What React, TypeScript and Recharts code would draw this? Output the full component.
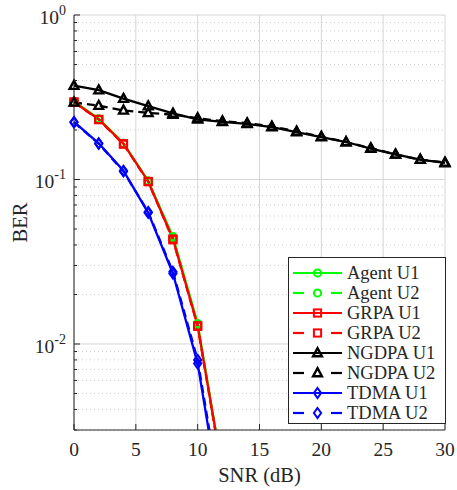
import { LineChart, Line, XAxis, YAxis, CartesianGrid, ReferenceLine, Label } from 'recharts'

const snr = [0, 2, 4, 6, 8, 10, 12, 14, 16, 18, 20, 22, 24, 26, 28, 30]

const agentU1 = [0.298, 0.234, 0.166, 0.098, 0.045, 0.0133, 0.0017]
const agentU2 = [0.296, 0.232, 0.165, 0.097, 0.044, 0.0131, 0.0017]
const grpaU1 = [0.296, 0.232, 0.165, 0.0973, 0.0435, 0.0129, 0.00168]
const grpaU2 = [0.295, 0.231, 0.164, 0.097, 0.043, 0.0128, 0.00165]
const ngdpaU1 = [0.372, 0.349, 0.31, 0.279, 0.252, 0.232, 0.224, 0.218, 0.208, 0.194, 0.181, 0.169, 0.154, 0.142, 0.132, 0.126]
const ngdpaU2 = [0.294, 0.281, 0.263, 0.254, 0.248, 0.236, 0.226, 0.22, 0.21, 0.196, 0.182, 0.169, 0.155, 0.142, 0.132, 0.127]
const tdmaU1 = [0.224, 0.166, 0.113, 0.0627, 0.0268, 0.0076, 0.00093]
const tdmaU2 = [0.222, 0.165, 0.112, 0.0635, 0.0275, 0.008, 0.001]

const xTicks = [0, 5, 10, 15, 20, 25, 30]
const yMajor = [0.01, 0.1, 1]
const yMinor = [0.003, 0.004, 0.005, 0.006, 0.007, 0.008, 0.009, 0.02, 0.03, 0.04, 0.05, 0.06, 0.07, 0.08, 0.09, 0.2, 0.3, 0.4, 0.5, 0.6, 0.7, 0.8, 0.9]
const yExp: Record<number, string> = { 0.01: '-2', 0.1: '-1', 1: '0' }

const data = snr.map((s, i) => ({
  snr: s,
  agentU1: agentU1[i],
  agentU2: agentU2[i],
  grpaU1: grpaU1[i],
  grpaU2: grpaU2[i],
  ngdpaU1: ngdpaU1[i],
  ngdpaU2: ngdpaU2[i],
  tdmaU1: tdmaU1[i],
  tdmaU2: tdmaU2[i],
}))

type MarkerKind = 'circle' | 'square' | 'triangle' | 'diamond'

const series: { key: string; name: string; color: string; dashed: boolean; marker: MarkerKind }[] = [
  { key: 'agentU1', name: 'Agent U1', color: '#00ff00', dashed: false, marker: 'circle' },
  { key: 'agentU2', name: 'Agent U2', color: '#00ff00', dashed: true, marker: 'circle' },
  { key: 'grpaU1', name: 'GRPA U1', color: '#ff0000', dashed: false, marker: 'square' },
  { key: 'grpaU2', name: 'GRPA U2', color: '#ff0000', dashed: true, marker: 'square' },
  { key: 'ngdpaU1', name: 'NGDPA U1', color: '#000000', dashed: false, marker: 'triangle' },
  { key: 'ngdpaU2', name: 'NGDPA U2', color: '#000000', dashed: true, marker: 'triangle' },
  { key: 'tdmaU1', name: 'TDMA U1', color: '#0000ff', dashed: false, marker: 'diamond' },
  { key: 'tdmaU2', name: 'TDMA U2', color: '#0000ff', dashed: true, marker: 'diamond' },
]

const FONT = '"Liberation Serif", "Times New Roman", serif'
const AXIS = '#262626'

function Marker({ kind, cx, cy, color }: { kind: MarkerKind; cx: number; cy: number; color: string }) {
  const common = { fill: 'none', stroke: color, strokeWidth: 2 }
  if (kind === 'circle') return <circle cx={cx} cy={cy} r={3.6} {...common} />
  if (kind === 'square') return <rect x={cx - 3.6} y={cy - 3.6} width={7.2} height={7.2} {...common} />
  if (kind === 'triangle')
    return <path d={`M${cx},${cy - 4.8} L${cx + 4.4},${cy + 3.2} L${cx - 4.4},${cy + 3.2} Z`} {...common} strokeWidth={2.4} />
  return <path d={`M${cx},${cy - 5} L${cx + 3.6},${cy} L${cx},${cy + 5} L${cx - 3.6},${cy} Z`} {...common} />
}

function YTick(props: any) {
  const { x, y, payload } = props
  const v = payload.value
  const major = yExp[v] !== undefined
  return (
    <g>
      <line x1={x} x2={x + (major ? 6 : 3)} y1={y} y2={y} stroke={AXIS} strokeWidth={1} />
      {major && (
        <text x={x - 8} y={y + 9} textAnchor="end" fontFamily={FONT} fontSize={19.5} fill={AXIS}>
          10
          <tspan dy={-9} fontSize={14}>
            {yExp[v]}
          </tspan>
        </text>
      )}
    </g>
  )
}

function XTick(props: any) {
  const { x, y, payload } = props
  return (
    <g>
      <line x1={x} x2={x} y1={y} y2={y - 6} stroke={AXIS} strokeWidth={1} />
      <text x={x} y={y + 26} textAnchor="middle" fontFamily={FONT} fontSize={19.5} fill={AXIS}>
        {payload.value}
      </text>
    </g>
  )
}

function LegendBox() {
  return (
    <div
      style={{
        position: 'absolute',
        left: 288,
        top: 257,
        width: 158,
        height: 167,
        border: '1px solid #262626',
        background: '#fff',
        boxSizing: 'border-box',
        paddingTop: 5,
      }}
    >
      {series.map((s) => (
        <div key={s.key} style={{ display: 'flex', alignItems: 'center', height: 20 }}>
          <svg width={54} height={20} style={{ display: 'block', flex: 'none' }}>
            {s.dashed ? (
              <>
                <line x1={4} x2={15} y1={10} y2={10} stroke={s.color} strokeWidth={2.2} />
                <line x1={42} x2={53} y1={10} y2={10} stroke={s.color} strokeWidth={2.2} />
              </>
            ) : (
              <line x1={4} x2={53} y1={10} y2={10} stroke={s.color} strokeWidth={2.2} />
            )}
            <Marker kind={s.marker} cx={28.5} cy={10} color={s.color} />
          </svg>
          <span style={{ fontFamily: FONT, fontSize: 18.5, color: AXIS, marginLeft: 4, lineHeight: '20px' }}>
            {s.name}
          </span>
        </div>
      ))}
    </div>
  )
}

export default function App() {
  return (
    <div style={{ position: 'relative', width: 457, height: 490, background: '#fff' }}>
      <style>{`body{margin:0}`}</style>
      <LineChart width={457} height={490} data={data} margin={{ top: 15, right: 12, left: 0, bottom: 0 }}>
        <CartesianGrid horizontal={false} stroke="#d6d6d6" strokeWidth={1} />
        {yMinor.map((v) => (
          <ReferenceLine key={`mn${v}`} y={v} stroke="#cfcfcf" strokeDasharray="1 3" strokeWidth={1} />
        ))}
        {yMajor.map((v) => (
          <ReferenceLine key={`mj${v}`} y={v} stroke="#d6d6d6" strokeWidth={1} />
        ))}
        <XAxis
          type="number"
          dataKey="snr"
          domain={[0, 30]}
          ticks={xTicks}
          interval={0}
          height={60}
          stroke={AXIS}
          tickSize={0}
          tickMargin={0}
          tickLine={false}
          tick={<XTick />}
        >
          <Label
            content={({ viewBox }: any) => (
              <text
                x={viewBox.x + viewBox.width / 2}
                y={viewBox.y + 52}
                textAnchor="middle"
                fontFamily={FONT}
                fontSize={20.5}
                fill={AXIS}
              >
                SNR (dB)
              </text>
            )}
          />
        </XAxis>
        <YAxis
          type="number"
          scale="log"
          domain={[0.003, 1]}
          allowDataOverflow
          ticks={[...yMinor, ...yMajor]}
          interval={0}
          width={74}
          stroke={AXIS}
          tickSize={0}
          tickMargin={0}
          tickLine={false}
          tick={<YTick />}
        >
          <Label
            content={({ viewBox }: any) => {
              const cx = viewBox.x + 20
              const cy = viewBox.y + viewBox.height / 2
              return (
                <text
                  x={cx}
                  y={cy}
                  transform={`rotate(-90 ${cx} ${cy})`}
                  textAnchor="middle"
                  dominantBaseline="central"
                  fontFamily={FONT}
                  fontSize={20.5}
                  fill={AXIS}
                >
                  BER
                </text>
              )
            }}
          />
        </YAxis>
        {series.map((s) => (
          <Line
            key={s.key}
            dataKey={s.key}
            name={s.name}
            type="linear"
            stroke={s.color}
            strokeWidth={2.3}
            strokeDasharray={s.dashed ? '8 5' : undefined}
            isAnimationActive={false}
            dot={(p: any) =>
              p.cx == null || p.cy == null ? (
                <g key={`${s.key}-${p.index}`} />
              ) : (
                <g key={`${s.key}-${p.index}`}>
                  <Marker kind={s.marker} cx={p.cx} cy={p.cy} color={s.color} />
                </g>
              )
            }
          />
        ))}
      </LineChart>
      <LegendBox />
    </div>
  )
}
